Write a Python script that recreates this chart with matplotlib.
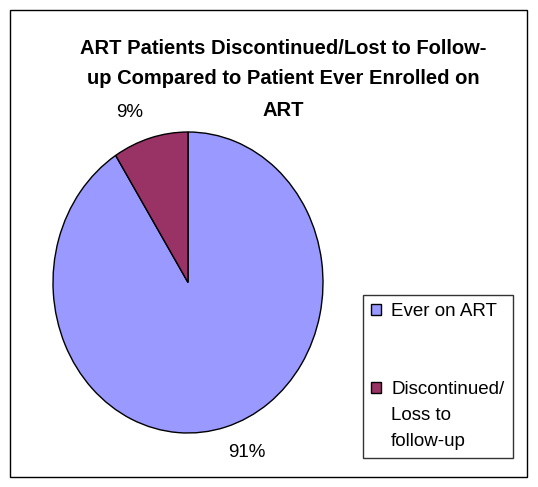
import matplotlib.pyplot as plt
from matplotlib.patches import Rectangle, Patch

title_lines = ['ART Patients Discontinued/Lost to Follow-',
               'up Compared to Patient Ever Enrolled on',
               'ART']
labels = ['Ever on ART', 'Discontinued/\nLoss to\nfollow-up']
values = [91, 9]
colors = ['#9999FF', '#993366']

plt.rcParams['font.family'] = ['Liberation Sans', 'DejaVu Sans']

fig = plt.figure(figsize=(5.38, 4.87), dpi=100)
W, H = 538, 487

# outer chart border
fig.patches.append(Rectangle((10 / W, 10 / H), 517 / W, 467 / H, transform=fig.transFigure,
                             fill=False, edgecolor='black', linewidth=1))

# title, one text per line so the lines keep Excel's wide spacing
for i, line in enumerate(title_lines):
    fig.text(283 / W, 1 - (48 + 31 * i) / H, line,
             ha='center', va='center', fontsize=14.5, fontweight='bold')

ax = fig.add_axes([53 / W, 1 - 433 / H, 270 / W, 301 / H])
wedges, texts, autotexts = ax.pie(values, colors=colors, startangle=90, counterclock=False,
                                  autopct='%1.0f%%', pctdistance=1.2,
                                  wedgeprops=dict(edgecolor='black', linewidth=1))
for t in autotexts:
    t.set_fontsize(13.5)
    x, y = t.get_position()
    t.set_position((x * 1.3, y * 0.98))
ax.set_aspect('auto')
ax.set_xlim(-1, 1)
ax.set_ylim(-1, 1)

# legend entries, Excel-style: handle sits on the first line of a wrapped label
blank = Patch(facecolor='none', edgecolor='none')
leg_handles = []
leg_labels = []
for i, (w, lab) in enumerate(zip(wedges, labels)):
    if i > 0:
        leg_handles += [blank, blank]
        leg_labels += [' ', ' ']
    lines = lab.split('\n')
    leg_handles.append(w)
    leg_labels.append(lines[0])
    for ln in lines[1:]:
        leg_handles.append(blank)
        leg_labels.append(ln)

leg = fig.legend(leg_handles, leg_labels, loc='upper left', bbox_to_anchor=(363 / W, 1 - 295 / H),
                 fontsize=13.5, frameon=True, fancybox=False, edgecolor='black',
                 handlelength=0.5, handleheight=0.5, handletextpad=0.55,
                 labelspacing=0.47, borderpad=0.45, borderaxespad=0)
leg.get_frame().set_linewidth(1)

plt.savefig('out.png', dpi=100)
